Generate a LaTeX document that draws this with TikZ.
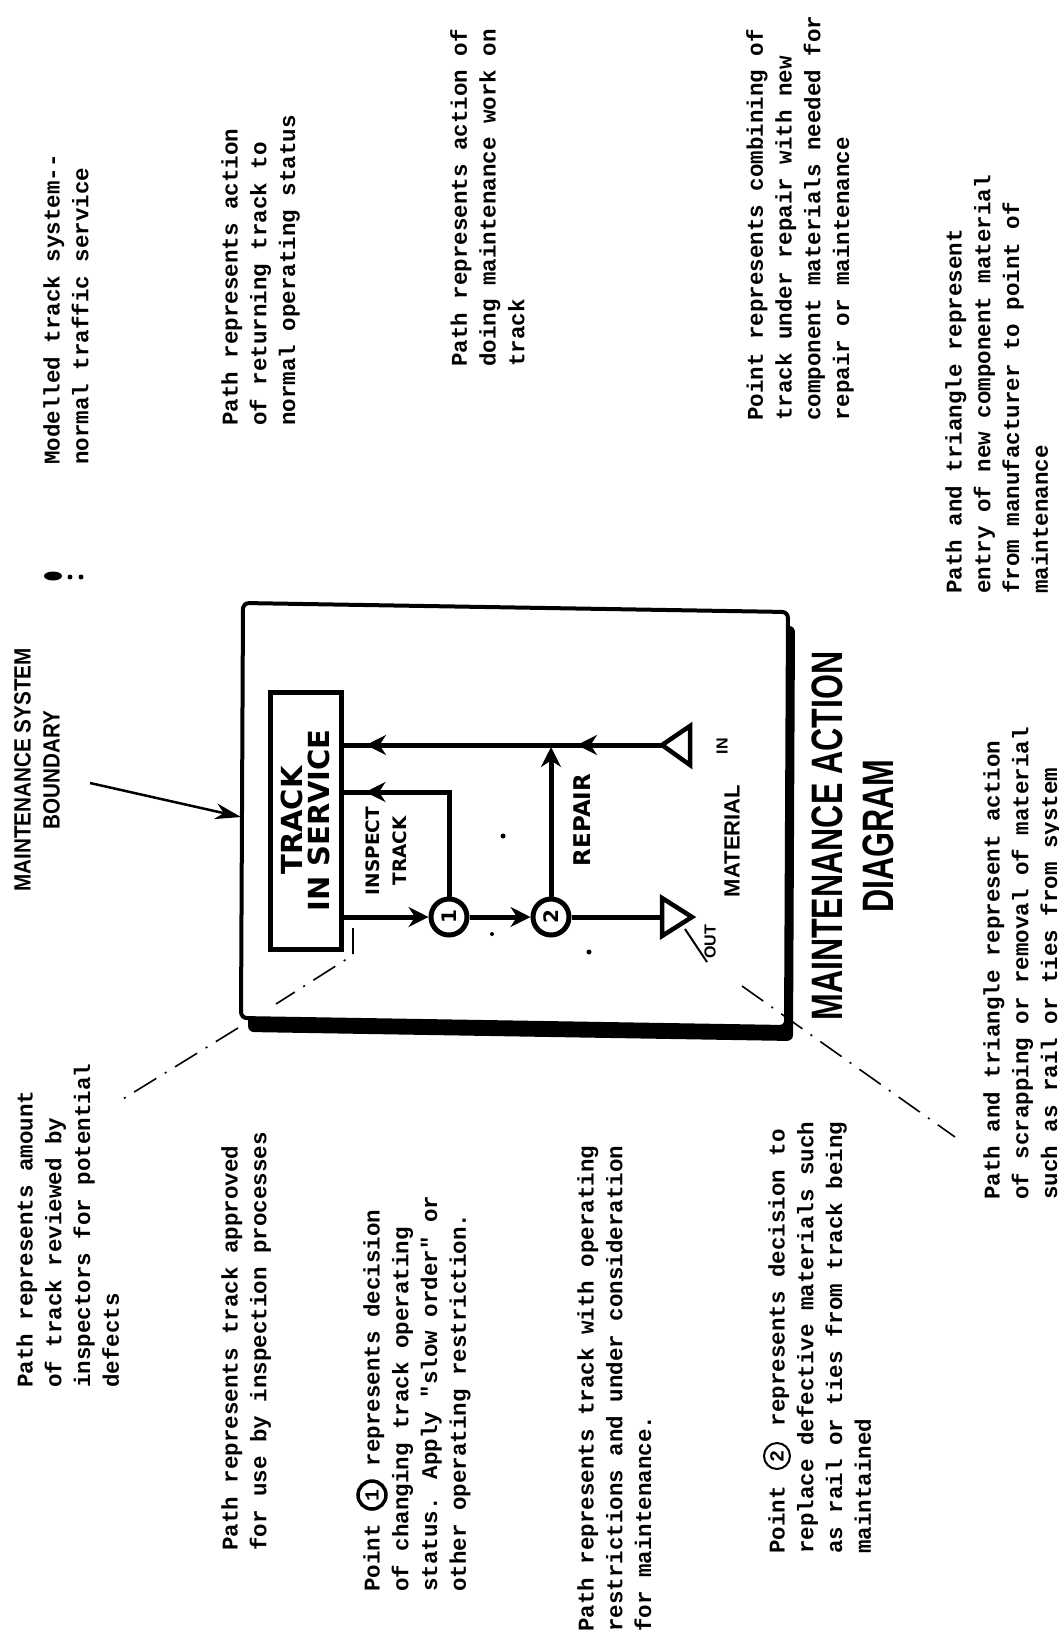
\documentclass[tikz,border=0pt]{standalone}
\usepackage{fontspec}
\usepackage{graphicx}
\usetikzlibrary{arrows.meta,decorations.markings}
\newfontfamily\mymono{Liberation Mono}
\newfontfamily\mytitle{Liberation Sans}[FakeStretch=0.73]
\newfontfamily\mybnd{Liberation Sans}[FakeStretch=0.88]
\newfontfamily\myhand{DejaVu Sans}
\newfontfamily\mylab{Liberation Sans}
\tikzset{
  note/.style={rotate=90, anchor=north west, align=left, inner sep=0pt,
    font=\mymono\bfseries\fontsize{22.5}{28.8}\selectfont},
  flow/.style={line width=5pt},
  flowarrow/.style={-{Stealth[length=20pt,width=20pt]}},
  tri/.style={line width=4.5pt, line join=miter},
  leader/.style={line width=1.6pt, dash pattern=on 26pt off 10pt on 2pt off 10pt},
  point/.style={circle, draw, line width=5pt, fill=white, minimum size=36pt, inner sep=0pt,
    font=\myhand\bfseries\fontsize{20}{20}\selectfont},
  inlabel/.style={rotate=90, align=center, inner sep=0pt}
}
\begin{document}
\begin{tikzpicture}[x=1pt,y=-1pt]
\useasboundingbox (0,0) rectangle (1059,1651);

% system boundary with shadow
\fill[rounded corners=6pt] (250,617) -- (795,626) -- (793,1041) -- (248,1032) -- cycle;
\draw[line width=4pt, rounded corners=6pt, fill=white] (243,603) -- (788,612) -- (786,1027) -- (241,1018) -- cycle;

% track in service
\node[draw, line width=5pt, fill=white, minimum width=71pt, minimum height=257pt, inner sep=0pt] (track) at (305.5,820.5) {};
\node[inlabel, font=\myhand\bfseries\fontsize{29}{27}\selectfont] (tracklbl) at (track.center) {TRACK\\IN SERVICE};

% decision points
\node[point] (c1) at (449,917) {\rotatebox{90}{1}};
\node[point] (c2) at (551,917) {\rotatebox{90}{2}};

% material triangles
\coordinate (inA) at (662,745);
\draw[tri] (inA) -- (690,726) -- (690,765) -- cycle;
\coordinate (outB) at (662,917);
\draw[tri] (outB) -- (662,898) -- (692,917) -- (662,936) -- cycle;

\coordinate (insp) at (0,792);
\coordinate (junct) at (551,745);

% paths
\draw[flow, postaction={decorate}, decoration={markings,
   mark=at position 85pt with {\arrow{Stealth[length=20pt,width=20pt]}},
   mark=at position 296pt with {\arrow{Stealth[length=20pt,width=20pt]}}}]
   (inA) -- (track.east |- inA);
\draw[flow, postaction={decorate}, decoration={markings,
   mark=at position -22pt with {\arrow{Stealth[length=20pt,width=20pt]}}}]
   (c1.north) -- (c1.north |- insp) -- (track.east |- insp);
\draw[flow, flowarrow] (track.east |- c1) -- (c1);
\draw[flow, flowarrow] (c1) -- (c2);
\draw[flow] (c2) -- (outB);
\draw[flow, flowarrow, shorten >=2pt] (c2) -- (junct);

% inner labels
\node[inlabel, font=\myhand\bfseries\fontsize{18.5}{27}\selectfont] (insplbl) at (386,851) {INSPECT\\TRACK};
\node[inlabel, font=\myhand\bfseries\fontsize{23}{23}\selectfont] (replbl) at (582,820) {REPAIR};
\node[inlabel, font=\mylab\bfseries\fontsize{22}{22}\selectfont] (matlbl) at (732,841) {MATERIAL};
\node[inlabel, font=\mylab\bfseries\fontsize{16}{16}\selectfont] (inlbl) at (722,746) {IN};
\node[inlabel, font=\mylab\bfseries\fontsize{16}{16}\selectfont] (outlbl) at (710,942) {OUT};

% title
\node[inlabel, font=\mytitle\bfseries\fontsize{44}{51}\selectfont] (title) at (853,836) {MAINTENANCE ACTION\\DIAGRAM};

% boundary label and arrow
\node[inlabel, font=\mybnd\bfseries\fontsize{23.5}{29}\selectfont] (bnd) at (37,770) {MAINTENANCE SYSTEM\\BOUNDARY};
\coordinate (bndA) at (90,783);
\coordinate (bndB) at (241,817);
\draw[line width=2.5pt, -{Stealth[length=26pt,width=16pt]}] (bndA) -- (bndB);

% smudge mark
\fill (53,576) ellipse [x radius=9pt, y radius=4.5pt];
\fill (70,577) circle [radius=2.5pt];
\fill (81,577) circle [radius=2.5pt];

% leaders
\coordinate (l1a) at (238,1028); \coordinate (l1b) at (118,1102);
\draw[leader] (l1a) -- (l1b);
\coordinate (l2a) at (353,928); \coordinate (l2b) at (353,955); \coordinate (l2c) at (276,1004);
\draw[leader] (l2a) -- (l2b) -- (l2c);
\coordinate (l3a) at (685,929); \coordinate (l3b) at (707,962);
\draw[line width=2pt] (l3a) -- (l3b);
\coordinate (l4a) at (742,986); \coordinate (l4b) at (955,1137);
\draw[leader] (l4a) -- (l4b);
\fill (503,836) circle [radius=2.5pt];
\fill (492,934) circle [radius=2pt];
\fill (589,952) circle [radius=2.5pt];

% annotations
\node[note] (tA) at (43,465) {Modelled track system-{}-\\normal traffic service};
\node[note] (tB) at (221,426) {Path represents action\\of returning track to\\normal operating status};
\node[note] (tC) at (450,367) {Path represents action of\\doing maintenance work on\\track};
\node[note] (tD) at (746,421) {Point represents combining of\\track under repair with new\\component materials needed for\\repair or maintenance};
\node[note] (tE) at (945,594) {Path and triangle represent\\entry of new component material\\from manufacturer to point of\\maintenance};
\node[note] (tG) at (16,1388) {Path represents amount\\of track reviewed by\\inspectors for potential\\defects};
\node[note] (tH) at (221,1551) {Path represents track approved\\for use by inspection processes};
\node[note] (tI) at (363,1592) {Point\hspace{58pt}represents decision\\of changing track operating\\status. Apply "slow order" or\\other operating restriction.};
\node[circle, draw, line width=3.5pt, minimum size=28pt, inner sep=0pt, font=\mymono\bfseries\fontsize{20}{20}\selectfont] (p1) at (372,1495) {\rotatebox{90}{1}};
\node[note] (tJ) at (577,1632) {Path represents track with operating\\restrictions and under consideration\\for maintenance.};
\node[note] (tK) at (768,1554) {Point\hspace{60pt}represents decision to\\replace defective materials such\\as rail or ties from track being\\maintained};
\node[circle, draw, line width=2pt, minimum size=26pt, inner sep=0pt, font=\mymono\bfseries\fontsize{20}{20}\selectfont] (p2) at (777,1456) {\rotatebox{90}{2}};
\node[note] (tL) at (983,1200) {Path and triangle represent action\\of scrapping or removal of material\\such as rail or ties from system};
\end{tikzpicture}
\end{document}
